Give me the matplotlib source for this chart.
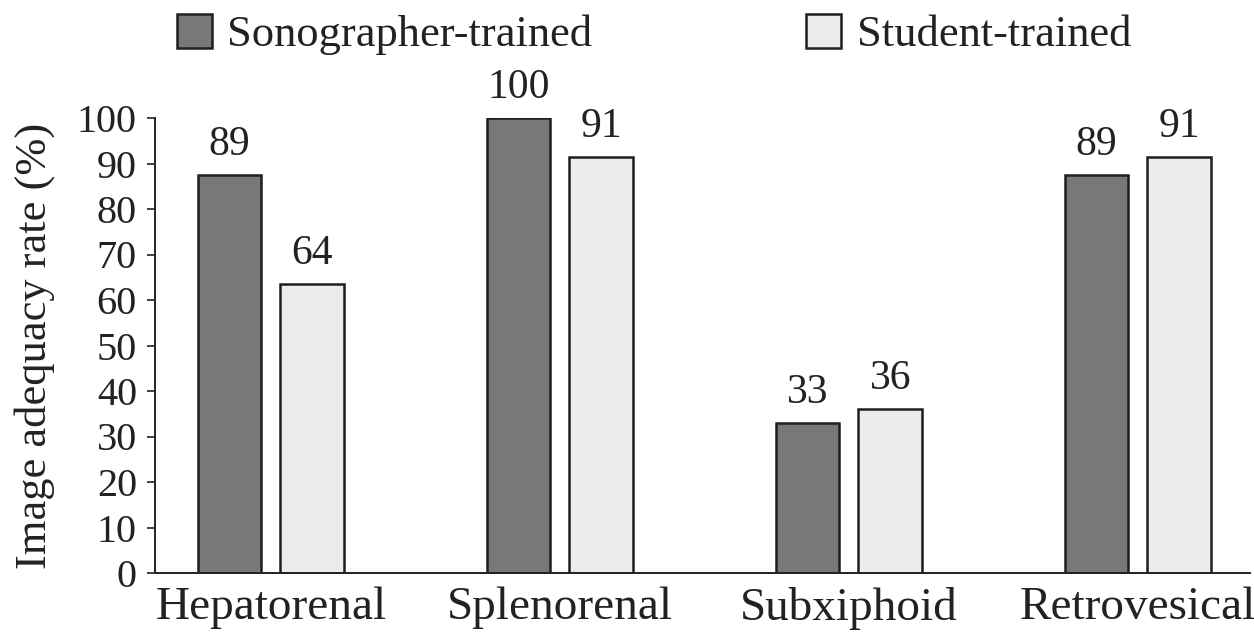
import matplotlib
matplotlib.use('Agg')
import matplotlib.pyplot as plt
import matplotlib.transforms as mtransforms
import numpy as np
from matplotlib.patches import Patch

# Data
sites = ['Hepatorenal', 'Splenorenal', 'Subxiphoid', 'Retrovesical']
sono_heights = [87.5, 100, 33, 87.5]
student_heights = [63.5, 91.5, 36, 91.5]
sono_labels = ['89', '100', '33', '89']
student_labels = ['64', '91', '36', '91']

plt.rcParams['font.family'] = ['Liberation Serif', 'DejaVu Serif']

dark = '#787878'
light = '#ececec'
edge = '#1e1e1e'

fig = plt.figure(figsize=(12.54, 6.37), dpi=100)
ax = fig.add_axes([155 / 1254, 1 - 573 / 637, (1250 - 155) / 1254, (573 - 118) / 637])

x = np.arange(len(sites))
w = 0.22
off = 0.143
b1 = ax.bar(x - off, sono_heights, w, color=dark, edgecolor=edge, linewidth=1.8)
b2 = ax.bar(x + off, student_heights, w, color=light, edgecolor=edge, linewidth=1.8)

for bars, labels in [(b1, sono_labels), (b2, student_labels)]:
    for rect, lab in zip(bars, labels):
        ax.annotate(lab, (rect.get_x() + rect.get_width() / 2, rect.get_height()),
                    xytext=(0, 8), textcoords='offset points',
                    ha='center', va='bottom', fontsize=30, color='#222222')

ax.set_xlim(-0.401, 3.388)
ax.set_ylim(0, 100)
ax.set_yticks(range(0, 101, 10))
ax.set_xticks(x)
ax.set_xticklabels(sites, fontsize=34, color='#222222')
# last label sits a bit left of its group in the original
last = ax.get_xticklabels()[-1]
last.set_transform(last.get_transform() +
                   mtransforms.ScaledTranslation(-6 / 100, 0, fig.dpi_scale_trans))
ax.tick_params(axis='x', length=0, pad=10)
ax.tick_params(axis='y', direction='out', length=6, width=1.2, labelsize=29,
               pad=7, colors='#222222')
ax.set_ylabel('Image adequacy rate (%)', fontsize=32, color='#222222', labelpad=16)

for s in ['top', 'right']:
    ax.spines[s].set_visible(False)
for s in ['left', 'bottom']:
    ax.spines[s].set_linewidth(1.4)
    ax.spines[s].set_color('#222222')

handles = [Patch(facecolor=dark, edgecolor=edge, linewidth=1.8, label='Sonographer-trained'),
           Patch(facecolor=light, edgecolor=edge, linewidth=1.8, label='Student-trained')]
fig.legend(handles=handles, loc='center', bbox_to_anchor=(0.5215, 0.946), ncol=2,
           frameon=False, fontsize=32, handlelength=0.8, handleheight=0.8,
           handletextpad=0.34, columnspacing=4.8, labelcolor='#222222',
           borderpad=0, borderaxespad=0)

fig.savefig('out.png', dpi=100)
